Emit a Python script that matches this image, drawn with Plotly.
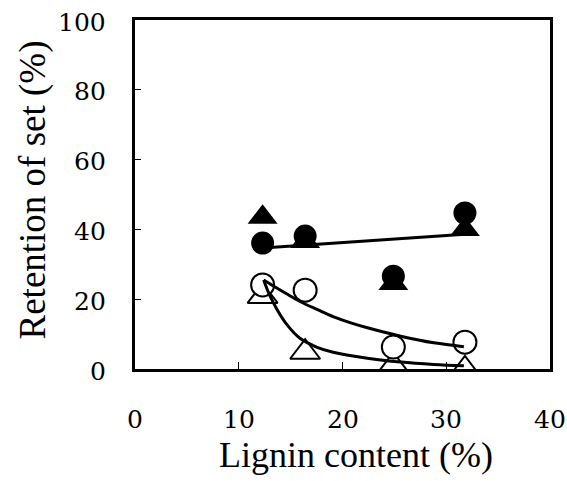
import plotly.graph_objects as go

lignin = [12.3, 16.4, 24.9, 31.8]
filled_circle = [36.1, 38.1, 26.6, 44.7]
filled_triangle = [43.5, 36.5, 24.5, 40.0]
open_circle = [24.1, 22.6, 6.3, 7.7]
open_triangle = [20.8, 4.8, 1.0, 0.0]

fit_filled_x = [12.3, 31.8]
fit_filled_y = [34.7, 38.6]
fit_open_circle_x = [12.4, 13.5, 14.7, 16.0, 17.6, 19.1, 20.8, 22.4, 25.6, 28.8, 31.7]
fit_open_circle_y = [25.5, 23.5, 21.4, 19.2, 17.0, 15.0, 13.2, 11.8, 9.4, 7.5, 6.4]
fit_open_tri_x = [12.4, 13.0, 13.7, 14.7, 15.9, 17.5, 19.1, 22.4, 25.6, 28.8, 31.7]
fit_open_tri_y = [25.5, 21.0, 17.0, 12.5, 8.8, 6.3, 4.8, 3.1, 2.0, 1.3, 0.9]

x_ticks = [0, 10, 20, 30, 40]
y_ticks = [0, 20, 40, 60, 80, 100]
x_title = "Lignin content (%)"
y_title = "Retention of set (%)"

fig = go.Figure()
ms = 23
tri = 26
fig.add_trace(go.Scatter(x=lignin, y=filled_triangle, mode="markers",
                         marker=dict(symbol="triangle-up", size=tri, color="black")))
fig.add_trace(go.Scatter(x=lignin, y=open_triangle, mode="markers",
                         marker=dict(symbol="triangle-up", size=tri, color="white",
                                     line=dict(color="black", width=2))))
fig.add_trace(go.Scatter(x=lignin, y=filled_circle, mode="markers",
                         marker=dict(symbol="circle", size=ms, color="black")))
fig.add_trace(go.Scatter(x=lignin, y=open_circle, mode="markers",
                         marker=dict(symbol="circle", size=ms, color="white",
                                     line=dict(color="black", width=2))))
fig.add_trace(go.Scatter(x=fit_filled_x, y=fit_filled_y, mode="lines",
                         line=dict(color="black", width=3)))
fig.add_trace(go.Scatter(x=fit_open_circle_x, y=fit_open_circle_y, mode="lines",
                         line=dict(color="black", width=3, shape="spline")))
fig.add_trace(go.Scatter(x=fit_open_tri_x, y=fit_open_tri_y, mode="lines",
                         line=dict(color="black", width=3, shape="spline")))

serif = "Liberation Serif"
tickfont = dict(family="DejaVu Serif", size=25, color="black")
annotations = []
for v in x_ticks:
    annotations.append(dict(x=v, y=0, xref="x", yref="paper", text=str(v),
                            showarrow=False, xanchor="center", yanchor="middle",
                            yshift=-50, font=tickfont))
for v in y_ticks:
    annotations.append(dict(x=0, y=v, xref="paper", yref="y", text=str(v),
                            showarrow=False, xanchor="right", yanchor="middle",
                            xshift=-27, yshift=-2, font=tickfont))
annotations.append(dict(x=0.5, y=0, xref="paper", yref="paper", text=x_title,
                        showarrow=False, xanchor="center", yanchor="middle",
                        xshift=13, yshift=-86, font=dict(family=serif, size=36, color="black")))
annotations.append(dict(x=0, y=0.5, xref="paper", yref="paper", text=y_title,
                        showarrow=False, xanchor="center", yanchor="middle", textangle=-90,
                        xshift=-103, yshift=4, font=dict(family=serif, size=37, color="black")))

fig.update_layout(
    width=567, height=481,
    margin=dict(l=135, r=17, t=20, b=112),
    paper_bgcolor="white", plot_bgcolor="white",
    showlegend=False,
    font=dict(family=serif, color="black", size=30),
    annotations=annotations,
    xaxis=dict(range=[0, 40], tickmode="array", tickvals=x_ticks, showticklabels=False,
               showgrid=False, zeroline=False, showline=True, mirror=True,
               linecolor="black", linewidth=3, ticks="inside", ticklen=7,
               tickcolor="black", tickwidth=1),
    yaxis=dict(range=[0, 100], tickmode="array", tickvals=y_ticks, showticklabels=False,
               showgrid=False, zeroline=False, showline=True, mirror=True,
               linecolor="black", linewidth=3, ticks="inside", ticklen=6,
               tickcolor="black", tickwidth=1),
)
fig.write_html("out.html")
